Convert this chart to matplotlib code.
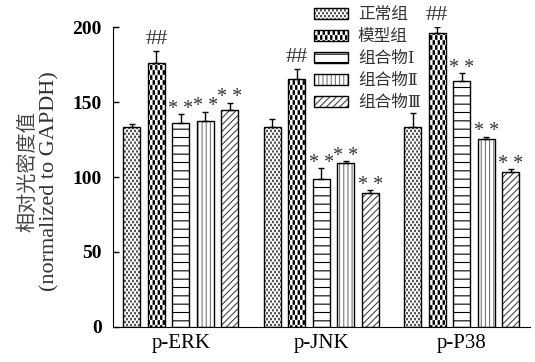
import numpy as np
import matplotlib
matplotlib.use('Agg')
import matplotlib.pyplot as plt
import matplotlib.hatch as mhatch
from matplotlib.path import Path

plt.rcParams['font.family'] = ['Liberation Serif', 'DejaVu Serif', 'Noto Sans CJK SC']
plt.rcParams['hatch.linewidth'] = 0.8

#data
proteins = ['p-ERK', 'p-JNK', 'p-P38']
groups = ['正常组', '模型组', '组合物Ⅰ', '组合物Ⅱ', '组合物Ⅲ']
normal = [133.5, 133.5, 133.1]
model = [176.4, 165.3, 196.2]
comp1 = [135.8, 98.4, 163.8]
comp2 = [137.6, 109.1, 125.6]
comp3 = [145.0, 89.6, 103.3]
normal_err = [2.2, 4.9, 9.3]
model_err = [7.6, 6.9, 4.0]
comp1_err = [6.2, 7.4, 5.3]
comp2_err = [6.0, 1.6, 1.3]
comp3_err = [4.5, 1.5, 1.8]
marks = ['', '##', '* *', '* *', '* *']
yticks = [0, 50, 100, 150, 200]


#checkerboard hatch: 'O' coarse, 'o' fine (replaces the circle hatches)
class CheckerHatch(mhatch.HatchPatternBase):
    def __init__(self, hatch, density):
        if 'O' in hatch:
            self.nx, self.ny, self.fx, self.fy = 40, 20, 0.5, 0.7
        elif 'o' in hatch:
            self.nx, self.ny, self.fx, self.fy = 50, 34, 0.3, 0.45
        else:
            self.nx, self.ny, self.fx, self.fy = 0, 0, 0, 0
        self.num_vertices = (self.nx * self.ny // 2) * 5

    def set_vertices_and_codes(self, vertices, codes):
        w, h = 1.0 / self.nx, 1.0 / self.ny
        k = 0
        for i in range(self.nx):
            for j in range(self.ny):
                if (i + j) % 2:
                    continue
                # keep each cell centred so strokes don't cross the tile edge
                x0 = i * w + w * (1 - self.fx) / 2
                y0 = j * h + h * (1 - self.fy) / 2
                x1, y1 = x0 + w * self.fx, y0 + h * self.fy
                vertices[k:k + 5] = [(x0, y0), (x1, y0), (x1, y1), (x0, y1), (x0, y0)]
                codes[k:k + 5] = [Path.MOVETO, Path.LINETO, Path.LINETO,
                                  Path.LINETO, Path.CLOSEPOLY]
                k += 5


mhatch._hatch_types = [mhatch.HorizontalHatch, mhatch.VerticalHatch,
                       mhatch.NorthEastHatch, mhatch.SouthEastHatch, CheckerHatch]

values = [normal, model, comp1, comp2, comp3]
errors = [normal_err, model_err, comp1_err, comp2_err, comp3_err]
hatches = ['o', 'O', '--', '||||', '/////']
hatch_colors = ['#555555', 'black', 'black', '#777777', '#444444']

fig, ax = plt.subplots(figsize=(5.35, 3.62), dpi=100)
fig.subplots_adjust(left=0.211, right=0.99, bottom=0.097, top=0.925)

x = np.arange(len(proteins))
step = 0.1744
width = 0.121
handles = []
for i in range(len(groups)):
    pos = x + (i - 2) * step
    b1 = ax.bar(pos, values[i], width, color='white', edgecolor=hatch_colors[i],
                hatch=hatches[i], linewidth=0, zorder=2)
    b2 = ax.bar(pos, values[i], width, fill=False, edgecolor='black',
                linewidth=1, zorder=3)
    ax.errorbar(pos, values[i], yerr=[np.zeros(len(pos)), errors[i]], fmt='none',
                ecolor='black', elinewidth=1, capsize=2.5, capthick=1, zorder=4)
    handles.append((b1[0], b2[0]))
    if marks[i]:
        if marks[i] == '##':
            off, fs = 4.5, 16
        else:
            off, fs = 0.3, 14.5
        for p, v, e in zip(pos, values[i], errors[i]):
            ax.text(p, v + e + off, marks[i], ha='center', va='baseline',
                    fontsize=fs, color='#333333')

ax.set_xlim(-0.484, 2.484)
ax.set_ylim(0, 200)
ax.set_yticks(yticks)
ax.set_xticks(x)
ax.set_xticklabels(proteins, fontsize=15)
ax.tick_params(axis='y', labelsize=14, direction='in', length=4, width=1, pad=8)
ax.tick_params(axis='x', direction='in', length=4, width=1, pad=5)
for t in ax.get_yticklabels():
    t.set_fontweight('bold')
ax.spines['top'].set_visible(False)
ax.spines['right'].set_visible(False)

#y label as two rotated lines
fig.text(29 / 535, 1 - 172 / 362, '相对光密度值', rotation=90, ha='center',
         va='center', fontsize=14.5, color='#444444')
fig.text(50 / 535, 1 - 181 / 362, '(normalized to GAPDH)', rotation=90,
         ha='center', va='center', fontsize=16, color='#333333')

ax.legend(handles, groups, loc='upper left', bbox_to_anchor=(0.566, 1.012),
          bbox_transform=fig.transFigure, frameon=False, fontsize=12,
          handlelength=2.0, handleheight=0.6, labelspacing=0.36,
          handletextpad=0.6, labelcolor='#333333', borderpad=0.2)

plt.savefig('out.png', dpi=100)
